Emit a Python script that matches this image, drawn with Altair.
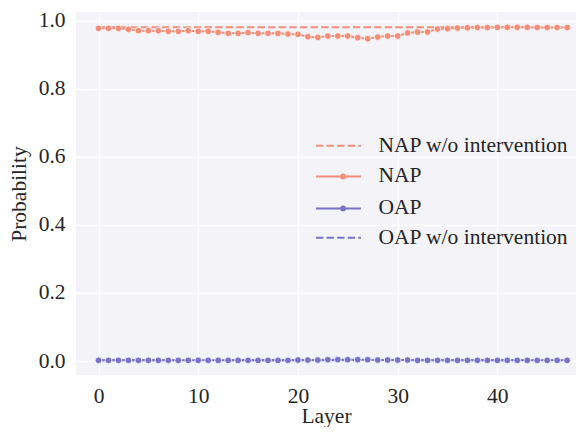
import altair as alt
import pandas as pd

layers = list(range(48))
nap = [0.9776, 0.9776, 0.9776, 0.9746, 0.9707, 0.9707, 0.9707, 0.9688, 0.9688, 0.9707,
       0.9688, 0.9688, 0.9658, 0.9629, 0.9629, 0.9649, 0.9629, 0.9629, 0.9629, 0.9610,
       0.9600, 0.9530, 0.9510, 0.9550, 0.9550, 0.9550, 0.9500, 0.9470, 0.9520, 0.9550,
       0.9550, 0.9640, 0.9668, 0.9668, 0.9756, 0.9766, 0.9785, 0.9790, 0.9800, 0.9800,
       0.9805, 0.9805, 0.9805, 0.9805, 0.9800, 0.9800, 0.9800, 0.9800]
nap_wo = [0.981] * 48
oap = [0.002, 0.002, 0.002, 0.002, 0.002, 0.002, 0.002, 0.002, 0.002, 0.002,
       0.002, 0.002, 0.002, 0.002, 0.002, 0.002, 0.002, 0.002, 0.002, 0.002,
       0.003, 0.003, 0.003, 0.004, 0.004, 0.004, 0.004, 0.004, 0.003, 0.003,
       0.003, 0.003, 0.002, 0.002, 0.002, 0.002, 0.002, 0.002, 0.002, 0.002,
       0.002, 0.002, 0.002, 0.002, 0.002, 0.002, 0.002, 0.002]
oap_wo = [0.002] * 48

NAP_C = "#F28E79"
OAP_C = "#7A73C8"
DASH = [7.4, 3.2]


def frame(name, vals):
    return pd.DataFrame({"Layer": layers, "Probability": vals, "series": name})


df_napwo = frame("NAP w/o intervention", nap_wo)
df_oapwo = frame("OAP w/o intervention", oap_wo)
df_main = pd.concat([frame("NAP", nap), frame("OAP", oap)], ignore_index=True)

FONT = "Liberation Serif"
FS = 21.5
TXT = "#262626"

xscale = alt.Scale(domain=[-2.26, 47.89], nice=False, zero=False)
yscale = alt.Scale(domain=[-0.041, 1.0256], nice=False, zero=False)

x_enc = alt.X("Layer:Q", scale=xscale,
              axis=alt.Axis(values=[0, 10, 20, 30, 40], title="Layer"))
y_enc = alt.Y("Probability:Q", scale=yscale,
              axis=alt.Axis(values=[0, 0.2, 0.4, 0.6, 0.8, 1.0], format=".1f", title="Probability"))

LX = 251.7
LY = 123
STEP = 30.7


def leg(y, **kw):
    base = dict(
        title=None, orient="none", legendX=LX, legendY=y, padding=0,
        labelFont=FONT, labelFontSize=FS, labelColor=TXT, labelOffset=29.3,
        symbolType="M-3,0L3,0", symbolSize=225, symbolStrokeWidth=2,
        rowPadding=9, labelLimit=400,
    )
    base.update(kw)
    return alt.Legend(**base)


l_napwo = alt.Chart(df_napwo).mark_line(strokeWidth=2, strokeDash=DASH).encode(
    x=x_enc, y=y_enc,
    color=alt.Color("series:N", scale=alt.Scale(domain=["NAP w/o intervention"], range=[NAP_C]),
                    legend=leg(LY, symbolDash=DASH)),
)

l_oapwo = alt.Chart(df_oapwo).mark_line(strokeWidth=2, strokeDash=DASH).encode(
    x=x_enc, y=y_enc,
    color=alt.Color("series:N", scale=alt.Scale(domain=["OAP w/o intervention"], range=[OAP_C]),
                    legend=leg(LY + 3 * STEP, symbolDash=DASH)),
)

l_main = alt.Chart(df_main).mark_line(strokeWidth=2).encode(
    x=x_enc, y=y_enc,
    color=alt.Color("series:N", scale=alt.Scale(domain=["NAP", "OAP"], range=[NAP_C, OAP_C]),
                    legend=leg(LY + STEP)),
    detail="series:N",
)

pts = alt.Chart(df_main).mark_point(filled=True, size=46, stroke="white", strokeWidth=0.8, opacity=1).encode(
    x=x_enc, y=y_enc,
    fill=alt.Fill("series:N", scale=alt.Scale(domain=["NAP", "OAP"], range=[NAP_C, OAP_C]),
                  legend=leg(LY + STEP, legendX=LX + 4.6, symbolType="circle", symbolSize=34,
                             symbolStrokeWidth=0, labelOpacity=0, labelExpr="' '")),
)

chart = alt.layer(l_napwo, l_oapwo, l_main, pts).resolve_scale(
    color="independent", fill="independent"
).properties(
    width=500,
    height=363,
    autosize=alt.AutoSizeParams(type="none"),
    padding={"left": 68, "top": 4, "right": 0, "bottom": 52},
    background="white",
).configure_view(
    fill="#F3F3F8", stroke=None
).configure_axis(
    labelFont=FONT, labelFontSize=FS, labelColor=TXT,
    titleFont=FONT, titleFontSize=FS, titleColor=TXT, titleFontWeight="normal",
    grid=True, gridColor="white", gridWidth=1.5,
    domain=False, ticks=False,
).configure_axisX(
    labelPadding=10, titlePadding=-1,
).configure_axisY(
    labelPadding=11, titlePadding=8,
)

chart.save("out.html", embed_options={"renderer": "svg", "actions": False})
